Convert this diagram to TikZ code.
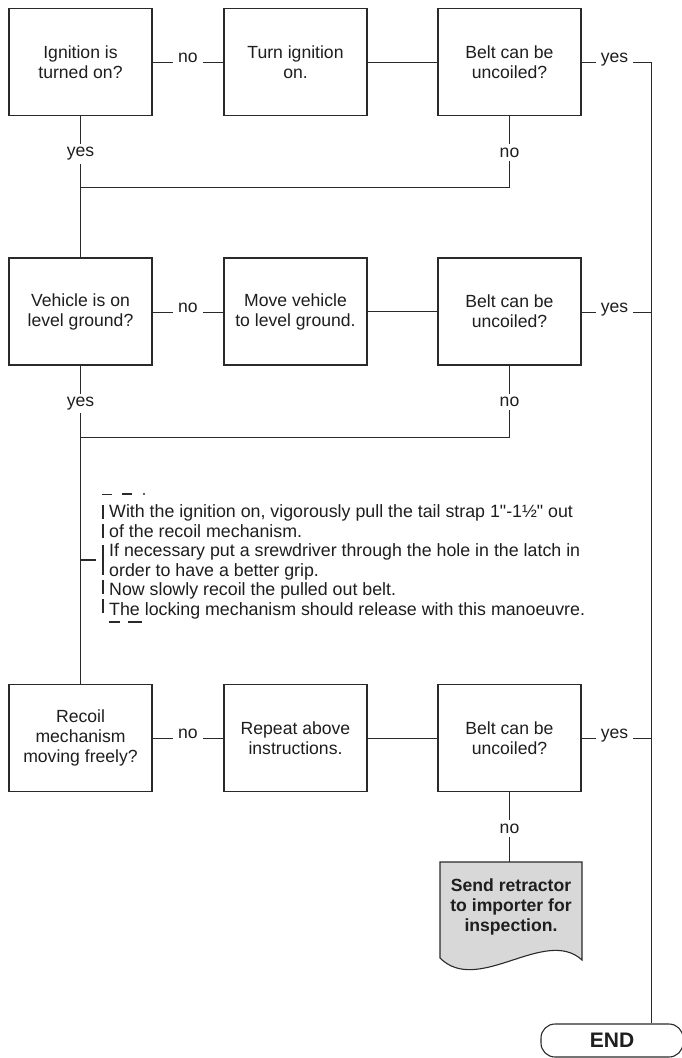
\documentclass[tikz,border=0pt]{standalone}
\usepackage{fontspec}
\setmainfont{Liberation Sans}
\newfontfamily\rawsans{Liberation Sans}
\usetikzlibrary{calc}
\definecolor{linec}{HTML}{2A2A2A}
\definecolor{textc}{HTML}{1E1E1E}
\definecolor{docfill}{HTML}{D8D8D8}
\newcommand\bxfont{\fontsize{17.6}{20}\selectfont}
\newcommand\insfont{\fontsize{17.8}{19.5}\selectfont}
\newcommand\sq{{\rawsans"}}
\begin{document}
\begin{tikzpicture}[x=1pt,y=-1pt,
  box/.style={draw=linec, line width=1.1pt, minimum width=143pt, minimum height=107pt,
    inner sep=0pt, align=center, font=\bxfont, text=textc},
  hlbl/.style={inner xsep=5pt, inner ysep=2pt, font=\bxfont, text=textc},
  vlbl/.style={inner xsep=1pt, inner ysep=3pt, font=\bxfont, text=textc},
  conn/.style={draw=linec, line width=1pt},
  instr/.style={align=left, inner sep=0pt, font=\insfont, text=textc},
  docnode/.style={minimum width=142pt, minimum height=90pt, inner sep=0pt, align=center,
    font=\bxfont\bfseries, text=textc},
  endbox/.style={draw=linec, line width=1.1pt, rounded corners=14pt, minimum width=142pt,
    minimum height=33pt, inner sep=0pt, font=\fontsize{21}{24}\selectfont\bfseries, text=textc},
  brk/.style={draw=linec, line width=1.1pt}
]
\useasboundingbox (0,0) rectangle (681,1058);
\fill[white] (0,0) rectangle (681,1058);

% ---------- row 1 ----------
\node[box] (b1) at (80.5,62) {Ignition is\\turned on?};
\node[box] (b2) at (295.5,62) {Turn ignition\\on.};
\node[box] (b3) at (509.5,62) {Belt can be\\uncoiled?};
\node[hlbl, anchor=base] (n1) at (188,62.5) {no};
\node[hlbl, anchor=base] (y1) at (614.5,62.5) {yes};
\node[vlbl] (y2) at (80.5,154) {yes};
\node[vlbl] (n2) at (509.5,152.5) {no};
\coordinate (j1) at (80.5,187);
\coordinate (r1) at (651,62.5);

% ---------- row 2 ----------
\node[box] (b4) at (80.5,311.5) {Vehicle is on\\level ground?};
\node[box] (b5) at (295.5,311.5) {Move vehicle\\to level ground.};
\node[box] (b6) at (509.5,311.5) {Belt can be\\uncoiled?};
\node[hlbl, anchor=base] (n3) at (188,312) {no};
\node[hlbl, anchor=base] (y3) at (614.5,312) {yes};
\node[vlbl] (y4) at (80.5,403.5) {yes};
\node[vlbl] (n4) at (509.5,402) {no};
\coordinate (j2) at (80.5,437);

% ---------- instructions ----------
\node[instr, anchor=north west] (ins) at (109,504.5)
  {With the ignition on, vigorously pull the tail strap 1\sq-1½\sq{} out\\
   of the recoil mechanism.\\
   If necessary put a srewdriver through the hole in the latch in\\
   order to have a better grip.\\
   Now slowly recoil the pulled out belt.\\
   The locking mechanism should release with this manoeuvre.};
\coordinate (t0) at (80.5,560);
\draw[brk] (t0) -- ++(15,0);
\foreach \c in {512,531,587,606}
  \draw[brk] (103,\c-7) -- (103,\c+7);
\draw[brk] (103,545) -- (103,575);
\draw[brk,line width=0.8pt] (102,494) -- (112,494);
\draw[brk] (122,494) -- (132,494);
\fill[linec] (144,494) circle (1.1pt);
\draw[brk] (109,622) -- (120,622);
\draw[brk] (128,622) -- (142,622);

% ---------- row 3 ----------
\node[box] (b7) at (80.5,738) {Recoil\\mechanism\\moving freely?};
\node[box] (b8) at (295.5,738) {Repeat above\\instructions.};
\node[box] (b9) at (509.5,738) {Belt can be\\uncoiled?};
\node[hlbl, anchor=base] (n5) at (188,738.5) {no};
\node[hlbl, anchor=base] (y5) at (614.5,738.5) {yes};
\node[vlbl] (n6) at (509.5,828.5) {no};

% document shape
\filldraw[fill=docfill, draw=linec, line width=1.1pt]
  (440,862) -- (582,862) -- (582,960)
  .. controls (545,926) and (478,996) .. (440,958) -- cycle;
\node[docnode] (doc) at (511,907) {Send retractor\\to importer for\\inspection.};
\coordinate (doctop) at (509.5,862);

\node[endbox] (endn) at (612,1040.5) {END};

% ---------- connectors ----------
\draw[conn] (b1.east |- n1.base) -- (n1.base west);
\draw[conn] (n1.base east) -- (n1.base east -| b2.west);
\draw[conn] (b2.east) -- (b3.west);
\draw[conn] (b3.east |- y1.base) -- (y1.base west);
\draw[conn] (y1.base east) -- (r1) -- (r1 |- endn.north);
\draw[conn] (b1.south) -- (y2.north);
\draw[conn] (y2.south) -- (j1) -- (b4.north);
\draw[conn] (b3.south) -- (n2.north);
\draw[conn] (n2.south) |- (j1);

\draw[conn] (b4.east |- n3.base) -- (n3.base west);
\draw[conn] (n3.base east) -- (n3.base east -| b5.west);
\draw[conn] (b5.east) -- (b6.west);
\draw[conn] (b6.east |- y3.base) -- (y3.base west);
\draw[conn] (y3.base east) -- (y3.base east -| r1);
\draw[conn] (b4.south) -- (y4.north);
\draw[conn] (y4.south) -- (j2) -- (b7.north);
\draw[conn] (b6.south) -- (n4.north);
\draw[conn] (n4.south) |- (j2);

\draw[conn] (b7.east |- n5.base) -- (n5.base west);
\draw[conn] (n5.base east) -- (n5.base east -| b8.west);
\draw[conn] (b8.east) -- (b9.west);
\draw[conn] (b9.east |- y5.base) -- (y5.base west);
\draw[conn] (y5.base east) -- (y5.base east -| r1);
\draw[conn] (b9.south) -- (n6.north);
\draw[conn] (n6.south) -- (doctop);
\end{tikzpicture}
\end{document}
